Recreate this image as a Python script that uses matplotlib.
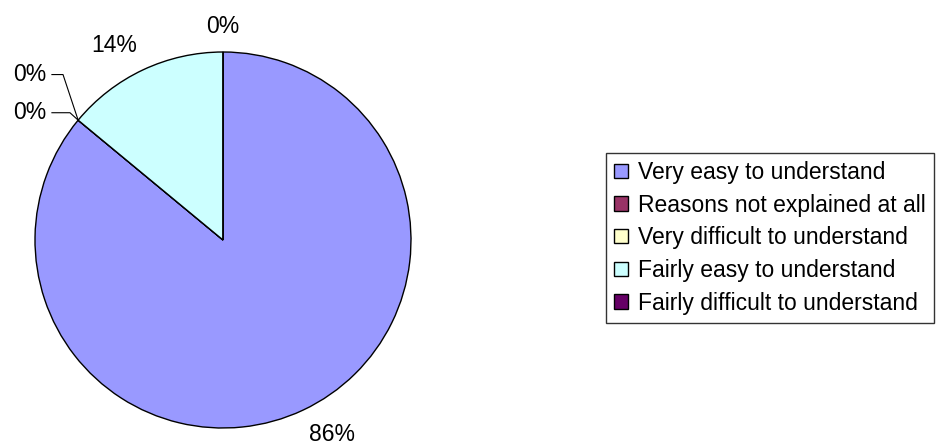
import numpy as np
import matplotlib.pyplot as plt

# answers, in the order the slices are drawn (clockwise from 12 o'clock)
categories = ["Very easy to understand", "Reasons not explained at all",
              "Very difficult to understand", "Fairly easy to understand",
              "Fairly difficult to understand"]
shares = [86, 0, 0, 14, 0]
colors = ["#9999FF", "#993366", "#FFFFCC", "#CCFFFF", "#660066"]

plt.rcParams['font.family'] = ['Liberation Sans', 'DejaVu Sans']
FS = 16.5

W, H = 943, 445
fig = plt.figure(figsize=(W / 100, H / 100), dpi=100)
# pie circle: centre (223, 240) px, radius 188 px
ax = fig.add_axes([35 / W, (H - 240 - 188) / H, 376 / W, 376 / H])

wedges, texts, autotexts = ax.pie(
  shares, colors=colors, startangle=90, counterclock=False,
  autopct='%1.0f%%', wedgeprops=dict(edgecolor='black', linewidth=1.0),
  textprops=dict(fontsize=FS))
ax.set_xlim(-1, 1)
ax.set_ylim(-1, 1)

# excel-like placement: label corner sits just outside the slice middle
for w, t in zip(wedges, autotexts):
  mid = np.deg2rad((w.theta1 + w.theta2) / 2)
  c, s = np.cos(mid), np.sin(mid)
  r = 1.075
  t.set_position((r * c, r * s))
  t.set_ha('center' if abs(c) < 0.1 else ('left' if c > 0 else 'right'))
  t.set_va('bottom' if s > 0 else 'top')

# the two 0% labels that share one edge get moved to the left with leader lines
ang = np.deg2rad(wedges[1].theta1)
px, py = np.cos(ang), np.sin(ang)
for t, ly, lx in [(autotexts[1], 0.880, -0.851), (autotexts[2], 0.677, -0.814)]:
  t.set_position((-0.94, ly))
  t.set_ha('right')
  t.set_va('center')
  ax.plot([-0.91, lx, px], [ly, ly, py], color='black', lw=0.8, clip_on=False)

leg = fig.legend(wedges, categories, loc='upper left',
                 bbox_to_anchor=(606 / W, (H - 153) / H),
                 fontsize=FS, frameon=True, fancybox=False, shadow=False,
                 handlelength=0.6, handleheight=0.6, handletextpad=0.45,
                 labelspacing=0.42, borderpad=0.35, borderaxespad=0)
leg.get_frame().set_edgecolor('black')
leg.get_frame().set_linewidth(1.0)

fig.savefig("out.png", dpi=100)
